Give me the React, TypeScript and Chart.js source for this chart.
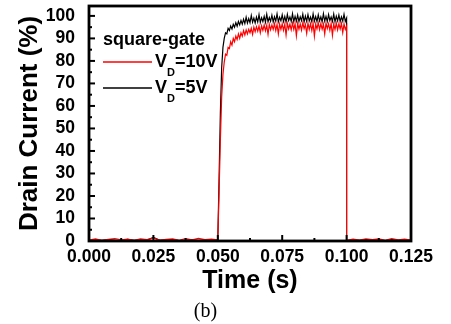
import React, { useEffect, useRef } from 'react';
import { Chart, registerables } from 'chart.js';

Chart.register(...registerables);

// ---- tick values / labels ----
const xTickValues = [0, 0.025, 0.05, 0.075, 0.1, 0.125];
const xTickLabels = ['0.000', '0.025', '0.050', '0.075', '0.100', '0.125'];
const xMinorTicks = [0.0125, 0.0375, 0.0625, 0.0875, 0.1125];
const yTickValues = [0, 10, 20, 30, 40, 50, 60, 70, 80, 90, 100];
const yMinorTicks = [5, 15, 25, 35, 45, 55, 65, 75, 85, 95];

// ---- series: before the gate pulse (s, %) ----
const preTime = [0, 0.0025, 0.005, 0.0075, 0.01, 0.0125, 0.015, 0.0175, 0.02, 0.0225, 0.025, 0.0275, 0.03, 0.0325, 0.035, 0.0375, 0.04, 0.0425, 0.045, 0.0475];
const preRed = [0.4, 0.9, 0.3, 0.7, 1.1, 0.5, 0.8, 0.3, 1.0, 0.6, 1.3, 0.4, 0.7, 0.9, 0.3, 1.1, 0.5, 1.2, 0.6, 0.8];
const preBlack = [0.2, 0.5, 0.3, 0.6, 0.4, 0.2, 0.7, 0.3, 0.5, 0.4, 1.6, 0.3, 0.5, 0.6, 0.2, 0.4, 0.6, 0.3, 0.5, 0.4];

// ---- during the pulse: samples every 0.5 ms from 0.050 s to 0.100 s ----
const pulseStart = 0.05;
const pulseStep = 0.0005;
const pulseRed = [
  0.5, 22, 45, 64, 74, 79.5, 83, 82.5, 86, 85.5,
  88.5, 87, 90, 88.5, 91, 89.5, 92, 90, 92.5, 91,
  93.5, 91.5, 93.8, 92, 94, 92.5, 94.5, 91.8, 95, 93,
  95.2, 93.2, 95.5, 92.5, 95.6, 93.6, 96, 93.4, 95.8, 91.8,
  96.2, 93.8, 96, 94, 96.5, 93.5, 96.2, 92, 96.4, 94,
  96.5, 93.6, 96.3, 91.5, 96.6, 94.2, 96.4, 93.8, 96.8, 94,
  96.5, 91.2, 96.7, 94.1, 96.4, 93.7, 96.9, 94.3, 96.2, 92.3,
  96.8, 94, 96.5, 93.5, 96.7, 91, 96.4, 94.2, 96.9, 93.9,
  96.6, 94.1, 96.3, 92, 96.8, 94.4, 96.5, 93.6, 96.7, 91.4,
  96.4, 94, 96.8, 93.8, 96.5, 94.2, 96.6, 92.6, 96.4, 94,
  95.5,
];
const pulseBlack = [
  0.5, 28, 57, 77, 86, 90, 92.5, 92, 94.5, 93.5,
  95.5, 94.2, 96.3, 95, 97, 95.4, 97.5, 96, 98, 96.3,
  98.5, 96.6, 99.4, 96.8, 98.8, 97, 100.2, 97.2, 99, 96.9,
  99.5, 97.3, 100.6, 97.1, 99.2, 97.5, 99.8, 97.2, 100.8, 97.4,
  99.3, 97.6, 100.3, 97.3, 99.6, 97.7, 100.9, 97.4, 99.4, 97.8,
  100.5, 97.5, 99.7, 97.3, 100.7, 97.9, 99.5, 97.6, 101, 97.4,
  99.8, 97.7, 100.4, 97.5, 99.6, 97.9, 100.8, 97.3, 99.9, 97.6,
  100.6, 97.8, 99.5, 97.4, 100.9, 97.7, 99.7, 97.5, 100.5, 97.8,
  99.6, 97.4, 101, 97.7, 99.8, 97.5, 100.6, 97.9, 99.5, 97.6,
  100.8, 97.4, 99.9, 97.8, 100.4, 97.5, 99.6, 97.7, 100.7, 97.6,
  99,
];

// ---- after the pulse ----
const postTime = [0.1, 0.1025, 0.105, 0.1075, 0.11, 0.1125, 0.115, 0.1175, 0.12, 0.1225, 0.125];
const postRed = [0.3, 0.8, 0.4, 1.0, 0.6, 0.9, 0.3, 1.1, 0.5, 0.8, 0.4];
const postBlack = [0.2, 0.5, 0.3, 0.6, 0.4, 0.5, 0.2, 0.6, 0.3, 0.5, 0.3];

const seriesLabels = ['VD=10V', 'VD=5V'];
const legendTitle = 'square-gate';

const SANS = "'Liberation Sans', Arial, Helvetica, sans-serif";
const SERIF = "'Liberation Serif', 'Times New Roman', Times, serif";

function buildSeries(pre: number[], pulse: number[], post: number[]) {
  return [
    ...preTime.map((t, i) => ({ x: t, y: pre[i] })),
    ...pulse.map((v, i) => ({ x: pulseStart + i * pulseStep, y: v })),
    ...postTime.map((t, i) => ({ x: t, y: post[i] })),
  ];
}

const framePlugin = {
  id: 'frameTicks',
  afterDatasetsDraw(chart: any) {
    const { ctx, chartArea } = chart;
    const { left, right, top, bottom } = chartArea;
    const xs = chart.scales.x;
    const ys = chart.scales.y;
    ctx.save();
    ctx.strokeStyle = '#000';
    ctx.lineCap = 'butt';
    ctx.lineWidth = 2;
    const tick = (x1: number, y1: number, x2: number, y2: number) => {
      ctx.beginPath();
      ctx.moveTo(x1, y1);
      ctx.lineTo(x2, y2);
      ctx.stroke();
    };
    xTickValues.forEach((v) => { const p = xs.getPixelForValue(v); tick(p, bottom, p, bottom - 6); });
    xMinorTicks.forEach((v) => { const p = xs.getPixelForValue(v); tick(p, bottom, p, bottom - 3); });
    yTickValues.forEach((v) => { const p = ys.getPixelForValue(v); tick(left, p, left + 6, p); });
    yMinorTicks.forEach((v) => { const p = ys.getPixelForValue(v); tick(left, p, left + 3, p); });
    ctx.lineWidth = 2.8;
    ctx.strokeRect(left, top, right - left, bottom - top);
    ctx.restore();
  },
};

const legendPlugin = {
  id: 'customLegend',
  afterDraw(chart: any) {
    const { ctx } = chart;
    const colors = ['#ff0000', '#000000'];
    const rows = [62, 88];
    const x0 = 103;
    ctx.save();
    ctx.fillStyle = '#000';
    ctx.textBaseline = 'alphabetic';
    ctx.font = `bold 18px ${SANS}`;
    ctx.fillText(legendTitle, x0, 45);
    rows.forEach((ly, i) => {
      ctx.strokeStyle = colors[i];
      ctx.lineWidth = 1.3;
      ctx.beginPath();
      ctx.moveTo(x0, ly);
      ctx.lineTo(x0 + 49, ly);
      ctx.stroke();
      const label = seriesLabels[i];
      const main = label.slice(0, 1);
      const sub = label.slice(1, 2);
      const rest = label.slice(2);
      let tx = x0 + 52;
      const base = ly + 5;
      ctx.font = `bold 18px ${SANS}`;
      ctx.fillText(main, tx, base);
      tx += ctx.measureText(main).width;
      ctx.font = `bold 11px ${SANS}`;
      ctx.fillText(sub, tx, base + 9);
      tx += ctx.measureText(sub).width;
      ctx.font = `bold 18px ${SANS}`;
      ctx.fillText(rest, tx, base);
    });
    ctx.restore();
  },
};

export default function App() {
  const canvasRef = useRef<HTMLCanvasElement | null>(null);

  useEffect(() => {
    if (!canvasRef.current) return;
    const chart = new Chart(canvasRef.current, {
      type: 'line',
      data: {
        datasets: [
          {
            label: seriesLabels[0],
            data: buildSeries(preRed, pulseRed, postRed),
            borderColor: '#ff0000',
            borderWidth: 1.2,
            pointRadius: 0,
            tension: 0,
            fill: false,
          },
          {
            label: seriesLabels[1],
            data: buildSeries(preBlack, pulseBlack, postBlack),
            borderColor: '#000000',
            borderWidth: 1.2,
            pointRadius: 0,
            tension: 0,
            fill: false,
          },
        ],
      },
      options: {
        responsive: false,
        animation: false,
        devicePixelRatio: 1,
        layout: { padding: { top: 6, right: 40, left: 0, bottom: 0 } },
        plugins: {
          legend: { display: false },
          tooltip: { enabled: false },
          title: { display: false },
          subtitle: {
            display: true,
            text: '(b)',
            position: 'bottom',
            color: '#000',
            font: { family: SERIF, size: 20, weight: 'normal' },
            padding: { top: 4, bottom: 0 },
          },
        },
        scales: {
          x: {
            type: 'linear',
            min: 0,
            max: 0.125,
            grid: { display: false },
            border: { display: false },
            afterBuildTicks: (scale: any) => {
              scale.ticks = xTickValues.map((v) => ({ value: v }));
            },
            afterFit: (scale: any) => {
              scale.height = 55;
              scale.paddingLeft = 0;
              scale.paddingRight = 0;
            },
            ticks: {
              color: '#000',
              padding: -2,
              maxRotation: 0,
              autoSkip: false,
              font: { family: SANS, size: 17.5, weight: 'bold' },
              callback: (value: any) => {
                const i = xTickValues.findIndex((v) => Math.abs(v - Number(value)) < 1e-9);
                return i >= 0 ? xTickLabels[i] : '';
              },
            },
            title: {
              display: true,
              text: 'Time (s)',
              color: '#000',
              font: { family: SANS, size: 25, weight: 'bold' },
              padding: { top: 0, bottom: 0 },
            },
          },
          y: {
            type: 'linear',
            min: 0,
            max: 104.4,
            grid: { display: false },
            border: { display: false },
            afterBuildTicks: (scale: any) => {
              scale.ticks = yTickValues.map((v) => ({ value: v }));
            },
            afterFit: (scale: any) => {
              scale.width = 89;
              scale.paddingTop = 0;
              scale.paddingBottom = 0;
            },
            ticks: {
              color: '#000',
              padding: 6,
              autoSkip: false,
              font: { family: SANS, size: 17.5, weight: 'bold' },
              callback: (value: any) => String(value),
            },
            title: {
              display: true,
              text: 'Drain Current (%)',
              color: '#000',
              font: { family: SANS, size: 26, weight: 'bold' },
              padding: { top: 14, bottom: 0 },
            },
          },
        },
      },
      plugins: [framePlugin, legendPlugin],
    } as any);
    return () => chart.destroy();
  }, []);

  return (
    <div style={{ position: 'absolute', left: 0, top: 0, width: 451, height: 324, background: '#fff' }}>
      <canvas ref={canvasRef} width={451} height={324} style={{ width: 451, height: 324 }} />
    </div>
  );
}
